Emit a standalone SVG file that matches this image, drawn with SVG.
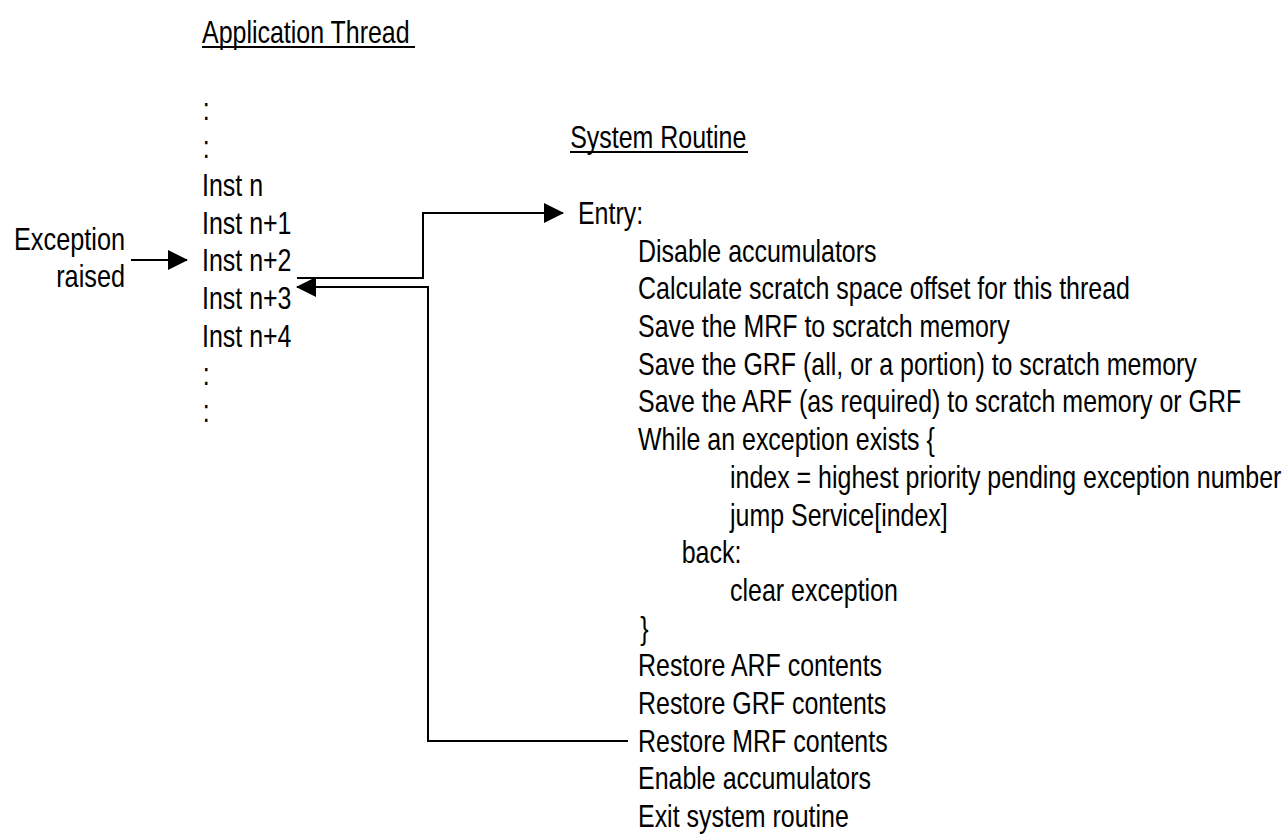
<svg xmlns="http://www.w3.org/2000/svg" width="1287" height="840" viewBox="0 0 1287 840">
<defs>
<style>
text{font-family:"Liberation Sans",Arial,sans-serif;font-size:32px;fill:#000}
.ln{fill:none;stroke:#000;stroke-width:2}
.ul{stroke:#000;stroke-width:2}
.r{text-anchor:end}
</style>
<marker id="ah" viewBox="0 0 20 20" refX="19" refY="10" markerWidth="20" markerHeight="20" markerUnits="userSpaceOnUse" orient="auto">
<path d="M0,0 L20,10 L0,20 Z" fill="#000"/>
</marker>
</defs>
<rect width="1287" height="840" fill="#fff"/>
<g id="app-thread">
<g transform="translate(202,0) scale(0.78,1)">
<text x="0" y="43">Application Thread</text>
<text x="1" y="120">:</text>
<text x="1" y="158">:</text>
<text x="0" y="196">Inst n</text>
<text x="0" y="234">Inst n+1</text>
<text x="0" y="271">Inst n+2</text>
<text x="0" y="309">Inst n+3</text>
<text x="0" y="347">Inst n+4</text>
<text x="1" y="385">:</text>
<text x="1" y="422">:</text>
</g>
<line class="ul" x1="202" y1="47" x2="415" y2="47"/>
</g>
<g id="exception">
<g transform="translate(125,0) scale(0.79,1)">
<text class="r" x="0" y="250">Exception</text>
<text class="r" x="0" y="287">raised</text>
</g>
</g>
<g id="system-routine">
<g transform="translate(638,0) scale(0.78,1)">
<text x="-87" y="148">System Routine</text>
<text x="-77" y="224">Entry:</text>
<text x="0" y="262">Disable accumulators</text>
<text x="0" y="299">Calculate scratch space offset for this thread</text>
<text x="0" y="337">Save the MRF to scratch memory</text>
<text x="0" y="375">Save the GRF (all, or a portion) to scratch memory</text>
<text x="0" y="412">Save the ARF (as required) to scratch memory or GRF</text>
<text x="0" y="450">While an exception exists {</text>
<text x="118" y="488">index = highest priority pending exception number</text>
<text x="118" y="526">jump Service[index]</text>
<text x="56" y="563">back:</text>
<text x="3" y="639">}</text>
<text x="118" y="601">clear exception</text>
<text x="0" y="676">Restore ARF contents</text>
<text x="0" y="714">Restore GRF contents</text>
<text x="0" y="752">Restore MRF contents</text>
<text x="0" y="789">Enable accumulators</text>
<text x="0" y="827">Exit system routine</text>
</g>
<line class="ul" x1="570" y1="152" x2="748" y2="152"/>
</g>
<g id="connectors">
<path class="ln" d="M131,260 H187" marker-end="url(#ah)"/>
<path class="ln" d="M297,278 H423 V213 H563" marker-end="url(#ah)"/>
<path class="ln" d="M628,741 H428 V287 H297" marker-end="url(#ah)"/>
</g>
</svg>
